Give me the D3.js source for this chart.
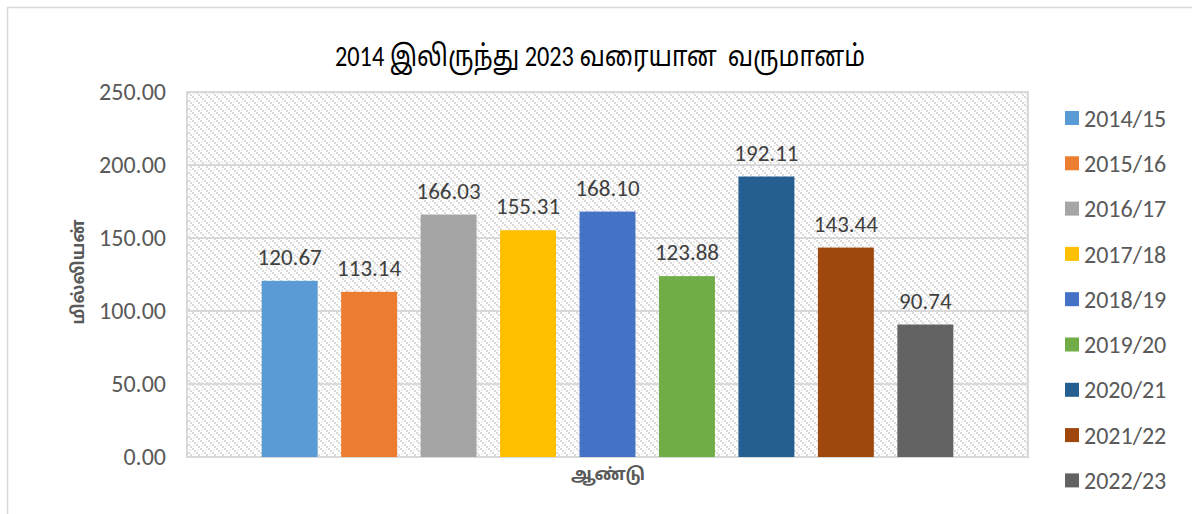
<!DOCTYPE html>
<html>
<head>
<meta charset="utf-8">
<script src="https://cdn.jsdelivr.net/npm/d3@7"></script>
<style>
  body { margin: 0; background: #fff; }
  svg text { font-family: Carlito, Calibri, 'Liberation Sans', 'Noto Sans Tamil', sans-serif; }
</style>
</head>
<body>
<div id="chart"></div>
<script>
const years = ['2014/15', '2015/16', '2016/17', '2017/18', '2018/19', '2019/20', '2020/21', '2021/22', '2022/23']
const values = [120.67, 113.14, 166.03, 155.31, 168.10, 123.88, 192.11, 143.44, 90.74]
const colors = ['#5B9BD5', '#ED7D31', '#A5A5A5', '#FFC000', '#4472C4', '#70AD47', '#255E91', '#9E480E', '#636363']
const yTicks = [0, 50, 100, 150, 200, 250]
const title = '2014 இலிருந்து 2023 வரையான  வருமானம்'
const yTitle = 'மில்லியன்'
const xTitle = 'ஆண்டு'

const dims = { width: 1192, height: 514, left: 187, right: 1028, top: 92, bottom: 457 }

const svg = d3.select('#chart')
  .append('svg')
  .attr('width', dims.width)
  .attr('height', dims.height)

// hatch fill for plot area
const pat = svg.append('defs').append('pattern')
  .attr('id', 'hatch')
  .attr('patternUnits', 'userSpaceOnUse')
  .attr('width', 8)
  .attr('height', 8)
pat.append('rect').attr('width', 8).attr('height', 8).attr('fill', '#fff')
;[[0, 0], [2, 2], [4, 4], [6, 6], [5, 1], [1, 5]].forEach(([px, py], i) => {
  pat.append('rect')
    .attr('x', px).attr('y', py)
    .attr('width', 2).attr('height', 2)
    .attr('fill', i < 4 ? '#dadada' : '#eeeeee')
})

// outer chart border
svg.append('rect')
  .attr('x', 7.5).attr('y', 7.5)
  .attr('width', 1200).attr('height', 520)
  .attr('fill', 'none')
  .attr('stroke', '#d9d9d9')
  .attr('stroke-width', 1.5)

svg.append('rect')
  .attr('x', dims.left).attr('y', dims.top)
  .attr('width', dims.right - dims.left)
  .attr('height', dims.bottom - dims.top)
  .attr('fill', 'url(#hatch)')
  .attr('stroke', '#d9d9d9')
  .attr('stroke-width', 2)

const yScale = d3.scaleLinear().domain([0, 250]).range([dims.bottom, dims.top])
const xScale = d3.scaleBand()
  .domain(years)
  .range([dims.left, dims.right])
  .paddingInner(0.296)
  .paddingOuter(0.94)

// gridlines
svg.append('g')
  .selectAll('line')
  .data(yTicks)
  .join('line')
  .attr('x1', dims.left).attr('x2', dims.right)
  .attr('y1', d => yScale(d)).attr('y2', d => yScale(d))
  .attr('stroke', '#d9d9d9')
  .attr('stroke-width', 2)

// y axis labels
const yAxis = d3.axisLeft(yScale)
  .tickValues(yTicks)
  .tickSize(0)
  .tickPadding(21)
  .tickFormat(d3.format('.2f'))
const yAxisGroup = svg.append('g')
  .attr('transform', `translate(${dims.left}, 0)`)
  .call(yAxis)
yAxisGroup.select('.domain').remove()
yAxisGroup.selectAll('text')
  .attr('fill', '#595959')
  .style('font-size', '24px')

// bars
svg.append('g')
  .selectAll('rect')
  .data(years)
  .join('rect')
  .attr('x', d => xScale(d))
  .attr('width', xScale.bandwidth())
  .attr('y', (d, i) => yScale(values[i]))
  .attr('height', (d, i) => yScale(0) - yScale(values[i]))
  .attr('fill', (d, i) => colors[i])

// data labels
svg.append('g')
  .selectAll('text')
  .data(years)
  .join('text')
  .attr('x', d => xScale(d) + xScale.bandwidth() / 2)
  .attr('y', (d, i) => yScale(values[i]) - 16)
  .attr('text-anchor', 'middle')
  .attr('fill', '#404040')
  .style('font-size', '23px')
  .text((d, i) => values[i].toFixed(2))

// titles
svg.append('text')
  .attr('x', 600).attr('y', 66)
  .attr('text-anchor', 'middle')
  .attr('fill', '#000')
  .attr('textLength', 530)
  .attr('lengthAdjust', 'spacingAndGlyphs')
  .style('font-size', '29px')
  .style('white-space', 'pre')
  .text(title)

svg.append('text')
  .attr('transform', 'translate(84, 272) rotate(-90)')
  .attr('text-anchor', 'middle')
  .attr('fill', '#595959')
  .style('font-size', '17px')
  .style('font-weight', 'bold')
  .text(yTitle)

svg.append('text')
  .attr('x', 608).attr('y', 480)
  .attr('text-anchor', 'middle')
  .attr('fill', '#595959')
  .style('font-size', '17px')
  .style('font-weight', 'bold')
  .text(xTitle)

// legend
const legend = svg.append('g')
  .selectAll('g')
  .data(years)
  .join('g')
  .attr('transform', (d, i) => `translate(1065, ${118 + i * 45.3})`)
legend.append('rect')
  .attr('x', 0).attr('y', -7)
  .attr('width', 14).attr('height', 14)
  .attr('fill', (d, i) => colors[i])
legend.append('text')
  .attr('x', 19).attr('y', 0)
  .attr('dy', '0.36em')
  .attr('fill', '#595959')
  .style('font-size', '24px')
  .text(d => d)
</script>
</body>
</html>
